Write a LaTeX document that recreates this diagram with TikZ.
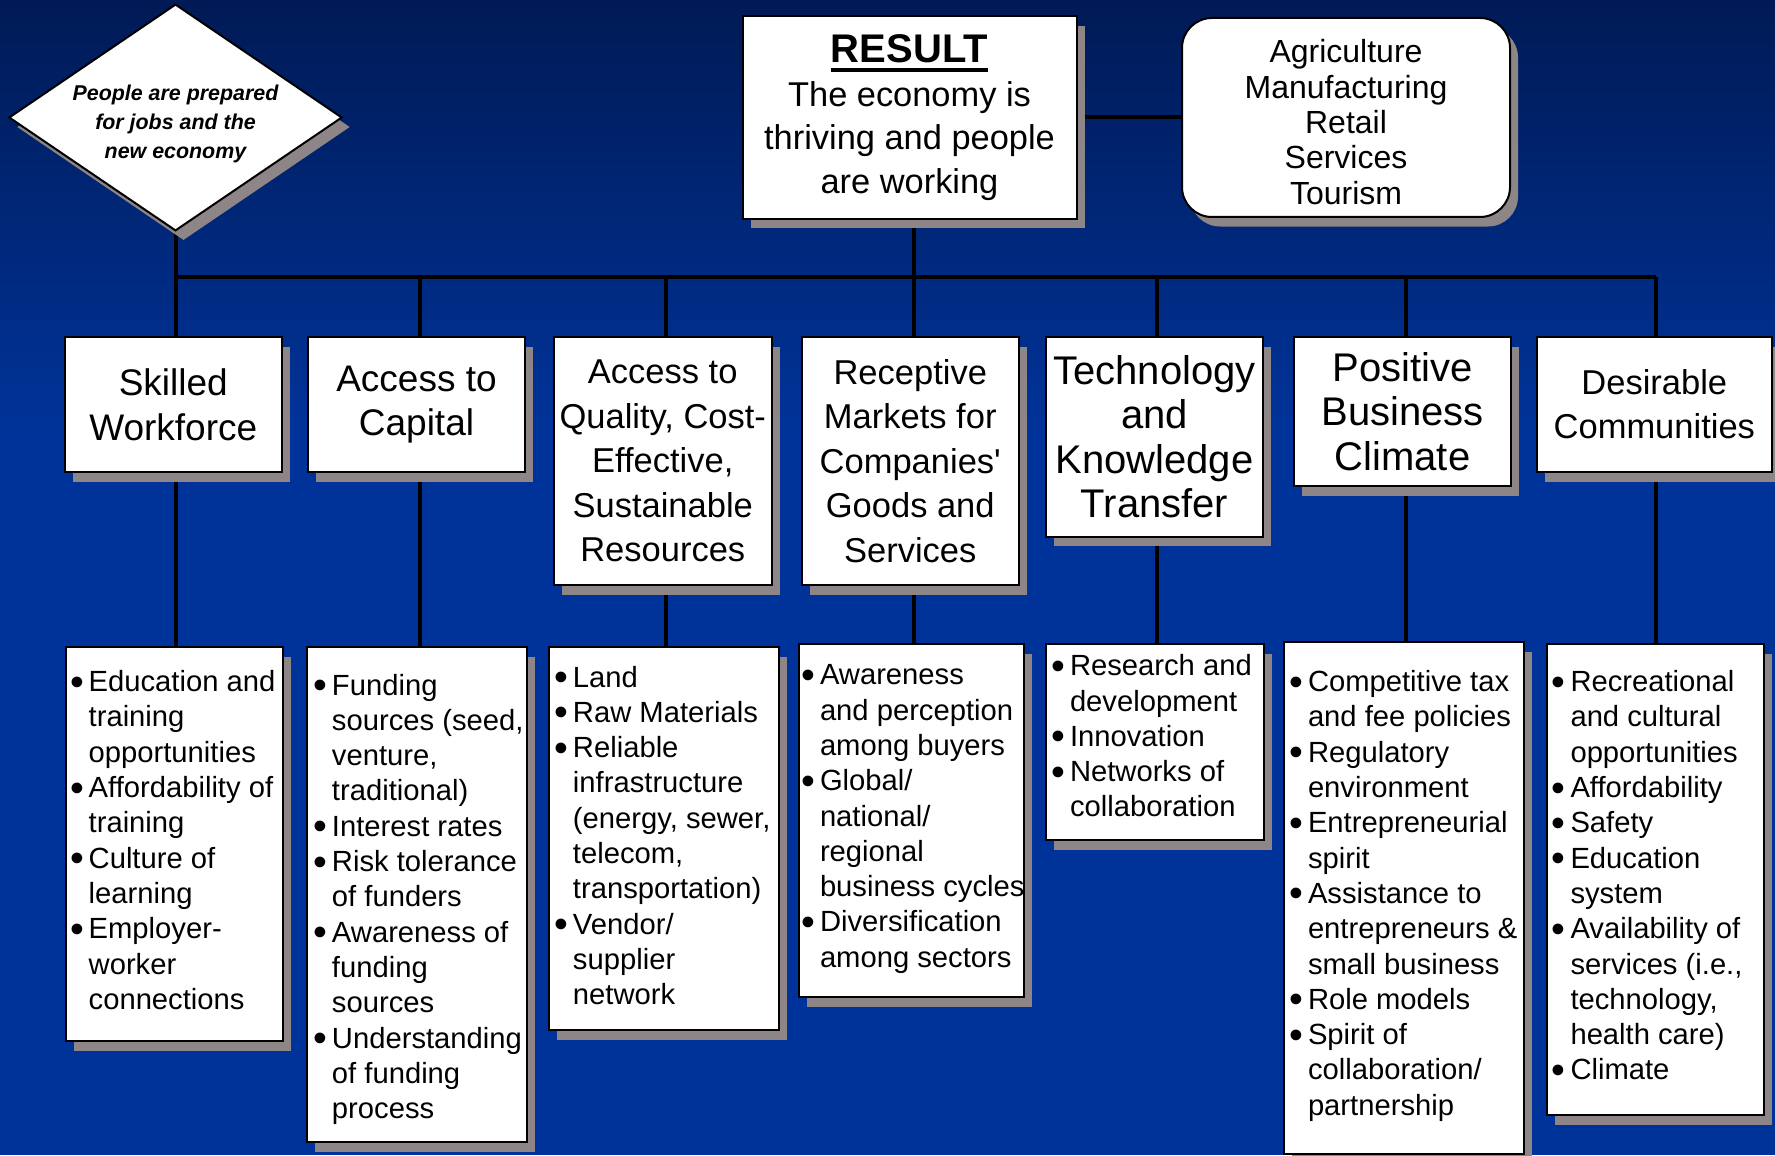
\documentclass[tikz,border=0pt]{standalone}
\usepackage{fontspec}
\setmainfont{Liberation Sans}
\usepackage{tikz}
\usetikzlibrary{shapes.geometric,shadows,backgrounds}

\definecolor{bgnavy}{RGB}{0,26,85}
\definecolor{bgblue}{RGB}{0,51,153}
\definecolor{shadowgray}{RGB}{142,134,134}

\newcommand{\bul}{\makebox[0.64em][l]{\raisebox{-0.12em}{\scalebox{1.35}{\textbullet}}}}
\newcommand{\resulthead}[1]{\setbox0\hbox{#1}\rlap{\rule[-4.6pt]{\wd0}{1.7pt}}\box0}
\newcommand{\lowered}[2]{\raisebox{-#1}[\height][\depth]{\begin{tabular}{@{}c@{}}#2\end{tabular}}}

\tikzset{
  shadowed/.style={drop shadow={shadow xshift=4pt,shadow yshift=-4.75pt,
                   fill=shadowgray,draw=none,opacity=1}},
  box/.style={draw,fill=white,line width=1pt,inner sep=0pt,align=center,shadowed},
  pillar/.style={box,minimum width=108.75pt},
  listbox/.style={box,anchor=north west},
  listtext/.style={anchor=base west,inner sep=0pt,font=\fontsize{14.6}{17.65}\selectfont},
  link/.style={line width=2pt,black}
}

\begin{document}
\begin{tikzpicture}[x=0.5pt,y=-0.5pt]
              \useasboundingbox (0,0) rectangle (1775,1155);

              \node[box,shape=diamond,aspect=1.47,minimum width=163.5pt,minimum height=111.5pt,
                    font=\fontsize{10.7}{14.45}\selectfont\bfseries\itshape] (Goal) at (175.5,117.5)
                    {\lowered{3pt}{People are prepared\\for jobs and the\\new economy}};
              \node[box,minimum width=167pt,minimum height=101.3pt,
                    font=\fontsize{17.2}{21.8}\selectfont] (Result) at (909.5,117.5)
                    {{\fontsize{20}{22}\selectfont\bfseries\resulthead{RESULT}}\\The economy is\\thriving and people\\are working};
              \node[box,rounded corners=15pt,minimum width=164pt,minimum height=99.5pt,
                    font=\fontsize{16}{17.7}\selectfont] (Sectors) at (1346,117.5)
                    {\lowered{4.5pt}{Agriculture\\Manufacturing\\Retail\\Services\\Tourism}};

              \node[pillar,minimum height=67.5pt,font=\fontsize{18.5}{22.3}\selectfont] (Skill) at (173.25,404.5)
                    {Skilled\\Workforce};
              \node[pillar,minimum height=67.5pt,font=\fontsize{18.5}{22.3}\selectfont] (Capital) at (416.5,404.5)
                    {Access to\\Capital};
              \node[pillar,minimum height=124pt,font=\fontsize{17.25}{22.25}\selectfont] (Resource) at (662.75,461)
                    {Access to\\Quality, Cost-\\Effective,\\Sustainable\\Resources};
              \node[pillar,minimum height=124pt,font=\fontsize{17.25}{22.25}\selectfont] (Market) at (910.25,461)
                    {Receptive\\Markets for\\Companies\textquotesingle\\Goods and\\Services};
              \node[pillar,minimum height=99.8pt,font=\fontsize{20}{22.25}\selectfont] (Tech) at (1154.5,436.8)
                    {Technology\\and\\Knowledge\\Transfer};
              \node[pillar,minimum height=74.5pt,font=\fontsize{20}{22.25}\selectfont] (Climate) at (1402.5,411.5)
                    {Positive\\Business\\Climate};
              \node[pillar,minimum width=117.3pt,minimum height=67.5pt,font=\fontsize{17.25}{22}\selectfont] (Community) at (1654.3,404.5)
                    {Desirable\\Communities};

              \node[listbox,minimum width=108.75pt,minimum height=197pt] (Skill-list) at (64.5,646) {};
              \node[listbox,minimum width=110.2pt,minimum height=247.5pt] (Capital-list) at (305.6,646) {};
              \node[listbox,minimum width=114.85pt,minimum height=191.5pt] (Resource-list) at (548,646) {};
              \node[listbox,minimum width=112.5pt,minimum height=176.5pt] (Market-list) at (798,643) {};
              \node[listbox,minimum width=109pt,minimum height=98pt] (Tech-list) at (1045,643) {};
              \node[listbox,minimum width=120pt,minimum height=256pt] (Climate-list) at (1282.6,641) {};
              \node[listbox,minimum width=108.3pt,minimum height=235.5pt] (Community-list) at (1546,643) {};

              \node[listtext] (Skill-text) at (69.6,691.6) {\begin{tabular}[t]{@{}l@{}l@{}}
                    \bul & Education and\\ & training\\ & opportunities\\
                    \bul & Affordability of\\ & training\\
                    \bul & Culture of\\ & learning\\
                    \bul & Employer-\\ & worker\\ & connections\end{tabular}};
              \node[listtext] (Capital-text) at (312.9,695) {\begin{tabular}[t]{@{}l@{}l@{}}
                    \bul & Funding\\ & sources (seed,\\ & venture,\\ & traditional)\\
                    \bul & Interest rates\\
                    \bul & Risk tolerance\\ & of funders\\
                    \bul & Awareness of\\ & funding\\ & sources\\
                    \bul & Understanding\\ & of funding\\ & process\end{tabular}};
              \node[listtext] (Resource-text) at (553.9,687) {\begin{tabular}[t]{@{}l@{}l@{}}
                    \bul & Land\\
                    \bul & Raw Materials\\
                    \bul & Reliable\\ & infrastructure\\ & (energy, sewer,\\ & telecom,\\ & transportation)\\
                    \bul & Vendor/\\ & supplier\\ & network\end{tabular}};
              \node[listtext] (Market-text) at (800.9,684.8) {\begin{tabular}[t]{@{}l@{}l@{}}
                    \bul & Awareness\\ & and perception\\ & among buyers\\
                    \bul & Global/\\ & national/\\ & regional\\ & business cycles\\
                    \bul & Diversification\\ & among sectors\end{tabular}};
              \node[listtext] (Tech-text) at (1050.9,675.7) {\begin{tabular}[t]{@{}l@{}l@{}}
                    \bul & Research and\\ & development\\
                    \bul & Innovation\\
                    \bul & Networks of\\ & collaboration\end{tabular}};
              \node[listtext] (Climate-text) at (1288.9,691.6) {\begin{tabular}[t]{@{}l@{}l@{}}
                    \bul & Competitive tax\\ & and fee policies\\
                    \bul & Regulatory\\ & environment\\
                    \bul & Entrepreneurial\\ & spirit\\
                    \bul & Assistance to\\ & entrepreneurs \&\\ & small business\\
                    \bul & Role models\\
                    \bul & Spirit of\\ & collaboration/\\ & partnership\end{tabular}};
              \node[listtext] (Community-text) at (1551.4,691.6) {\begin{tabular}[t]{@{}l@{}l@{}}
                    \bul & Recreational\\ & and cultural\\ & opportunities\\
                    \bul & Affordability\\
                    \bul & Safety\\
                    \bul & Education\\ & system\\
                    \bul & Availability of\\ & services (i.e.,\\ & technology,\\ & health care)\\
                    \bul & Climate\end{tabular}};

              \foreach \n/\x in {Skill/175.5,Capital/420,Resource/665.6,Market/913.5,
                                 Tech/1157,Climate/1406,Community/1656}
                \coordinate (\n-drop) at (\x,277);

              \begin{scope}[on background layer]
                \fill[bgblue] (0,0) rectangle (1775,1155);
                \shade[top color=bgnavy,bottom color=bgblue] (0,0) rectangle (1775,430);
                \draw[link] (Goal.south) -- (Skill-drop) -- (Community-drop);
                \draw[link] (Market-drop |- Result.south) -- (Market-drop);
                \draw[link] (Result) -- (Sectors);
                \foreach \n in {Skill,Capital,Resource,Market,Tech,Climate,Community}
                  \draw[link] (\n-drop) -- (\n-drop |- \n-list.north);
              \end{scope}
            \end{tikzpicture}
\end{document}
